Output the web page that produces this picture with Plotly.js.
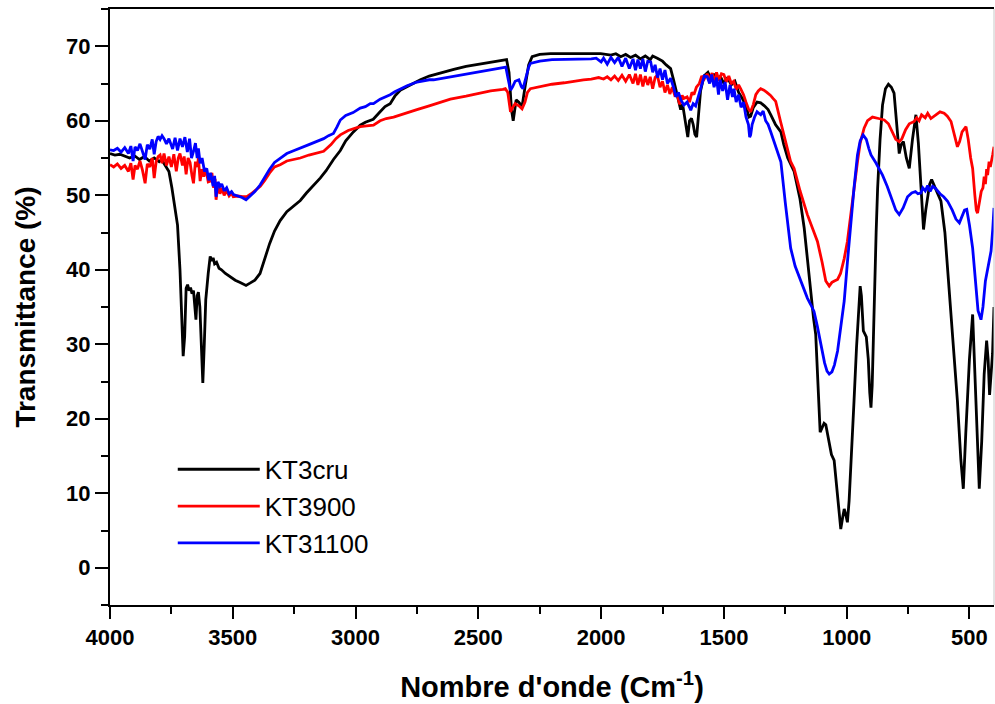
<!DOCTYPE html>
<html>
<head>
<meta charset="utf-8">
<script src="https://cdn.plot.ly/plotly-3.0.1.min.js"></script>
<style>html,body{margin:0;padding:0;background:#fff;}#chart{width:995px;height:704px;}</style>
</head>
<body>
<div id="chart"></div>
<script>
// KT3cru (black)
const kt3cruWn = [4000,3980,3960,3940,3920,3900,3880,3860,3840,3820,3800,3790,3775,3760,3748,3735,3725,3715,3708,3702,3696,3690,3684,3678,3672,3666,3660,3654,3650,3645,3640,3634,3628,3622,3616,3610,3600,3592,3586,3580,3574,3566,3556,3546,3530,3510,3490,3470,3446,3430,3410,3389,3370,3350,3330,3307,3280,3250,3225,3200,3170,3144,3120,3090,3062,3040,3009,2981,2960,2928,2900,2880,2859,2840,2818,2790,2760,2736,2700,2650,2600,2550,2500,2450,2400,2385,2375,2365,2358,2350,2346,2335,2322,2310,2295,2281,2250,2206,2150,2100,2050,2002,1960,1940,1920,1900,1880,1860,1840,1820,1800,1790,1771,1750,1735,1717,1705,1695,1685,1676,1668,1660,1652,1647,1640,1632,1625,1618,1611,1604,1595,1581,1565,1550,1540,1527,1515,1500,1485,1470,1455,1440,1425,1410,1398,1391,1380,1365,1350,1335,1320,1309,1290,1268,1256,1240,1214,1190,1173,1160,1146,1135,1126,1116,1108,1100,1092,1085,1075,1062,1051,1040,1030,1024,1016,1010,1004,997,990,980,970,960,952,945,940,932,920,912,906,901,896,888,880,874,864,854,842,830,818,807,797,786,778,769,757,745,732,718,708,698,687,678,670,662,654,640,630,616,600,587,575,562,549,535,525,515,500,487,480,470,460,450,440,430,424,418,412,406,400];
const kt3cruT = [55.6,55.4,55.5,55.2,55.0,55.3,54.8,55.2,54.6,55.0,54.5,54.8,54.0,53.2,51.0,48.2,46.0,40.0,33.0,28.4,31.0,37.5,38.0,37.2,37.6,36.8,37.2,35.0,33.3,36.5,37.0,35.0,30.0,24.8,30.0,36.0,39.5,41.8,41.2,41.6,40.8,41.0,40.2,40.0,39.5,39.0,38.6,38.3,37.9,38.2,38.6,39.5,41.5,43.5,45.2,46.6,47.8,48.6,49.3,50.3,51.3,52.3,53.3,54.8,56.0,57.3,58.5,59.4,59.8,60.2,61.2,61.9,62.3,63.3,64.1,64.6,65.1,65.5,66.0,66.5,66.9,67.3,67.6,67.9,68.2,68.2,66.5,61.5,60.0,62.0,62.8,62.5,61.9,64.5,67.5,68.6,68.9,69.0,69.0,69.1,69.0,69.0,68.8,69.0,68.6,68.9,68.5,68.8,68.3,68.7,68.2,68.7,68.4,68.0,67.5,67.0,65.5,64.2,62.5,61.5,62.2,60.5,58.5,57.8,60.0,60.3,59.5,58.2,57.8,60.5,64.0,66.0,66.5,65.5,66.3,65.4,66.0,65.0,65.8,64.8,65.3,63.8,63.0,62.0,60.5,60.6,61.8,62.5,62.4,62.0,61.5,60.8,59.5,58.5,56.8,55.0,53.2,49.5,45.6,41.5,36.7,33.5,31.3,24.0,18.2,18.8,19.4,19.2,17.5,15.2,14.4,10.5,6.5,5.2,6.8,7.9,7.2,6.1,9.0,15.0,22.4,29.5,35.0,37.8,36.5,31.8,31.0,28.0,23.5,21.5,24.5,35.8,45.0,50.9,57.5,62.1,64.3,64.9,64.5,63.7,60.0,55.6,56.8,57.2,55.0,53.6,57.5,60.8,57.0,50.9,45.4,48.0,50.1,51.5,52.1,51.0,50.3,49.2,45.0,39.0,33.1,28.0,22.4,14.5,10.6,18.0,28.0,34.0,28.0,17.0,10.6,17.0,26.0,30.5,28.0,23.2,25.5,28.7,35.0];

// KT3900 (red)
const kt3900Wn = [4000,3985,3970,3955,3940,3925,3915,3906,3898,3888,3878,3868,3857,3848,3838,3828,3820,3812,3804,3796,3788,3780,3770,3760,3750,3740,3730,3722,3715,3705,3698,3690,3682,3674,3666,3660,3652,3644,3640,3633,3625,3618,3610,3600,3592,3585,3578,3572,3568,3560,3552,3545,3535,3525,3515,3505,3498,3480,3460,3443,3425,3405,3388,3370,3350,3330,3307,3280,3250,3225,3190,3160,3130,3100,3080,3062,3030,3000,2981,2955,2927,2900,2875,2845,2800,2750,2700,2650,2614,2550,2500,2450,2400,2390,2380,2372,2369,2360,2350,2335,2322,2310,2300,2288,2250,2200,2150,2100,2072,2040,2010,1990,1975,1960,1945,1930,1915,1900,1885,1870,1860,1850,1840,1830,1820,1810,1800,1790,1780,1771,1760,1750,1740,1730,1720,1710,1700,1690,1680,1670,1663,1650,1640,1630,1622,1612,1600,1590,1580,1568,1558,1548,1538,1530,1520,1510,1500,1490,1480,1470,1460,1450,1440,1432,1420,1410,1400,1391,1380,1370,1360,1350,1337,1325,1310,1300,1289,1270,1250,1228,1214,1190,1160,1140,1119,1100,1085,1071,1060,1050,1037,1025,1010,997,985,970,956,945,929,915,895,870,847,830,815,800,786,775,760,745,725,715,705,695,680,670,657,640,620,603,590,575,562,549,540,530,514,505,495,487,478,472,467,460,452,445,440,435,430,426,420,415,410,405,400];
const kt3900T = [54.1,53.8,54.2,53.6,54.0,53.2,54.3,52.1,54.0,53.5,54.6,53.4,51.6,54.2,53.8,55.0,52.3,54.5,55.2,55.4,54.3,55.6,54.0,55.2,53.8,55.5,53.2,55.0,55.6,54.0,55.2,52.8,55.0,54.4,52.6,51.6,54.5,53.8,55.0,51.9,53.5,52.5,53.6,51.8,51.9,53.0,51.0,52.2,49.4,51.5,50.2,51.0,50.0,50.6,49.9,50.3,49.8,49.9,49.8,49.8,50.2,50.7,51.2,52.0,53.0,53.8,54.1,54.6,54.8,55.0,55.4,55.7,55.9,56.8,57.6,58.1,58.7,59.0,59.2,59.3,59.4,60.0,60.3,60.5,61.0,61.5,62.0,62.5,62.9,63.3,63.7,64.0,64.2,64.3,63.8,62.0,61.2,61.8,62.3,62.0,61.6,62.5,63.8,64.3,64.6,64.9,65.1,65.4,65.5,65.6,65.8,65.6,65.9,65.5,66.0,65.4,66.1,65.3,66.2,65.0,66.3,64.8,66.2,64.6,66.0,64.8,65.9,64.3,65.8,66.1,64.5,65.3,63.8,64.8,63.6,64.5,63.4,63.5,62.2,63.4,63.0,63.2,62.5,63.8,63.5,64.5,65.0,66.0,65.6,66.3,65.5,66.4,65.0,66.5,65.4,66.3,66.2,65.2,66.0,65.0,65.3,64.2,64.8,64.3,63.5,62.5,61.6,61.2,62.2,63.5,64.0,64.3,64.1,63.8,63.4,63.0,62.6,60.0,57.5,54.5,53.6,50.6,47.4,45.7,43.8,41.0,38.5,37.8,38.3,38.5,38.7,39.5,41.5,43.8,47.0,51.5,54.5,57.0,59.0,60.0,60.5,60.3,60.1,59.6,58.6,57.5,57.2,57.6,58.8,59.6,59.9,60.4,60.0,60.8,60.4,61.0,60.3,60.7,61.2,61.0,60.6,59.9,58.0,56.5,57.2,58.5,59.2,57.5,55.0,53.6,50.0,48.0,47.6,49.0,50.5,51.0,52.5,51.5,53.5,52.7,54.5,53.8,55.0,55.5,56.5];

// KT31100 (blue)
const kt31100Wn = [4000,3985,3970,3955,3940,3925,3915,3906,3898,3888,3878,3868,3857,3848,3838,3828,3820,3812,3804,3796,3788,3780,3770,3760,3755,3745,3735,3725,3715,3705,3695,3685,3676,3668,3660,3652,3645,3640,3633,3625,3615,3606,3598,3590,3580,3574,3568,3560,3552,3545,3535,3525,3515,3505,3497,3480,3462,3446,3430,3410,3388,3370,3350,3330,3307,3280,3250,3225,3190,3160,3130,3110,3090,3075,3062,3040,3010,2981,2960,2940,2927,2900,2880,2859,2840,2818,2790,2750,2700,2682,2614,2550,2500,2450,2400,2388,2378,2369,2360,2350,2335,2325,2318,2305,2295,2288,2250,2200,2150,2100,2070,2040,2020,2000,1990,1975,1960,1945,1930,1915,1900,1885,1870,1860,1850,1840,1830,1820,1810,1798,1790,1780,1770,1760,1750,1740,1730,1717,1705,1695,1685,1675,1663,1650,1640,1635,1625,1615,1608,1600,1590,1580,1568,1558,1550,1540,1530,1522,1515,1505,1495,1485,1475,1465,1459,1450,1440,1430,1420,1410,1400,1395,1391,1385,1375,1365,1350,1340,1330,1320,1309,1290,1268,1250,1228,1210,1187,1160,1146,1133,1120,1105,1090,1080,1071,1060,1050,1037,1025,1010,997,983,970,956,945,933,920,910,901,880,854,835,813,800,786,770,752,735,720,710,698,690,680,670,660,650,640,620,605,589,570,555,541,530,520,511,500,487,475,465,453,445,435,425,419,412,405,400];
const kt31100T = [56.1,56.0,56.3,55.8,56.4,55.6,56.6,54.6,56.5,56.0,56.9,55.8,54.8,56.8,56.2,57.5,55.5,57.2,57.9,57.5,58.0,57.6,56.9,57.6,57.2,56.2,57.7,56.0,57.6,56.5,57.8,55.8,57.6,55.0,55.9,57.0,55.0,56.3,54.3,55.0,53.2,53.6,52.0,53.0,51.2,52.6,49.8,51.8,51.2,51.5,50.6,51.0,50.2,50.5,50.1,49.9,49.7,49.4,49.9,50.5,51.4,52.4,53.5,54.4,55.0,55.6,56.0,56.3,56.8,57.2,57.6,58.0,58.3,59.2,60.1,60.7,61.1,61.7,61.9,62.3,62.3,62.9,63.2,63.5,63.9,64.3,64.7,65.2,65.5,65.5,65.9,66.3,66.6,66.9,67.2,67.2,65.5,64.1,64.6,65.3,65.5,64.6,64.3,66.0,67.2,67.7,68.0,68.2,68.2,68.3,68.3,68.3,68.4,67.9,68.4,67.6,68.5,67.8,68.5,67.3,68.4,67.0,68.3,66.8,68.2,67.0,68.3,66.6,68.0,67.9,66.5,67.5,65.8,67.0,65.5,66.8,65.0,65.7,64.5,63.2,63.8,62.8,62.1,62.5,61.8,61.4,62.3,62.0,62.8,63.8,65.0,66.0,65.9,65.0,66.2,64.5,65.8,63.5,65.5,64.0,65.2,62.8,64.8,63.2,64.3,62.5,63.5,61.8,62.5,60.5,59.5,57.8,58.1,59.5,60.5,61.2,60.8,61.3,60.0,59.5,58.5,56.5,54.5,49.0,42.9,40.5,38.5,36.2,35.3,34.4,32.5,30.0,27.5,26.4,26.0,26.3,27.2,29.1,32.0,35.8,41.0,46.5,51.0,55.4,57.3,58.1,57.5,56.3,55.4,54.3,52.7,51.2,49.2,48.0,47.4,48.3,49.8,50.3,50.5,50.2,50.3,51.0,50.6,51.3,50.5,51.2,51.0,50.2,49.8,49.2,48.0,46.8,46.3,47.3,48.0,48.1,46.0,42.9,38.0,34.5,33.3,35.0,38.5,40.5,41.6,42.5,45.5,48.3];

const seriesNames = ["KT3cru", "KT3900", "KT31100"];
const seriesColors = ["#000000", "#ff0000", "#0000ff"];

const baseFont = "Liberation Sans, Arial, Helvetica, sans-serif";

const traces = [
  {x: kt3cruWn, y: kt3cruT},
  {x: kt3900Wn, y: kt3900T},
  {x: kt31100Wn, y: kt31100T}
].map((d, i) => ({
  x: d.x, y: d.y, type: "scatter", mode: "lines",
  name: seriesNames[i],
  line: {color: seriesColors[i], width: 2.8}
}));

const layout = {
  width: 995, height: 704,
  margin: {l: 110, r: 1, t: 9, b: 99},
  paper_bgcolor: "#ffffff", plot_bgcolor: "#ffffff",
  font: {family: baseFont, color: "#000"},
  showlegend: true,
  legend: {
    x: 0.071, y: 0.267, xanchor: "left", yanchor: "top",
    bgcolor: "rgba(0,0,0,0)", borderwidth: 0,
    font: {family: baseFont, size: 26, color: "#000"},
    itemwidth: 82, tracegroupgap: 0
  },
  xaxis: {
    range: [4000, 400], autorange: false,
    tick0: 0, dtick: 500,
    showgrid: false, zeroline: false,
    showline: true, linecolor: "#000", linewidth: 2, mirror: true,
    ticks: "outside", ticklen: 12, tickwidth: 2, tickcolor: "#000",
    minor: {ticks: "outside", ticklen: 7, tickwidth: 2, tickcolor: "#000", dtick: 250, showgrid: false},
    tickfont: {family: baseFont, size: 22, weight: "bold", color: "#000"},
    title: {text: "Nombre d'onde (Cm<sup>-1</sup>)", font: {family: baseFont, size: 29, weight: "bold", color: "#000"}, standoff: 27}
  },
  yaxis: {
    range: [-5, 75], autorange: false,
    tick0: 0, dtick: 10,
    showgrid: false, zeroline: false,
    showline: true, linecolor: "#000", linewidth: 2,
    ticks: "outside", ticklen: 13, tickwidth: 2, tickcolor: "#000",
    minor: {ticks: "outside", ticklen: 7, tickwidth: 2, tickcolor: "#000", dtick: 5, showgrid: false},
    tickfont: {family: baseFont, size: 22, weight: "bold", color: "#000"},
    title: {text: "Transmittance (%)", font: {family: baseFont, size: 28, weight: "bold", color: "#000"}, standoff: 22}
  },
  shapes: [
    {type: "line", xref: "paper", yref: "paper", x0: 1, x1: 1, y0: 0, y1: 1, line: {color: "#c8c8c8", width: 1}}
  ]
};

Plotly.newPlot("chart", traces, layout, {displayModeBar: false, staticPlot: true});
</script>
</body>
</html>
